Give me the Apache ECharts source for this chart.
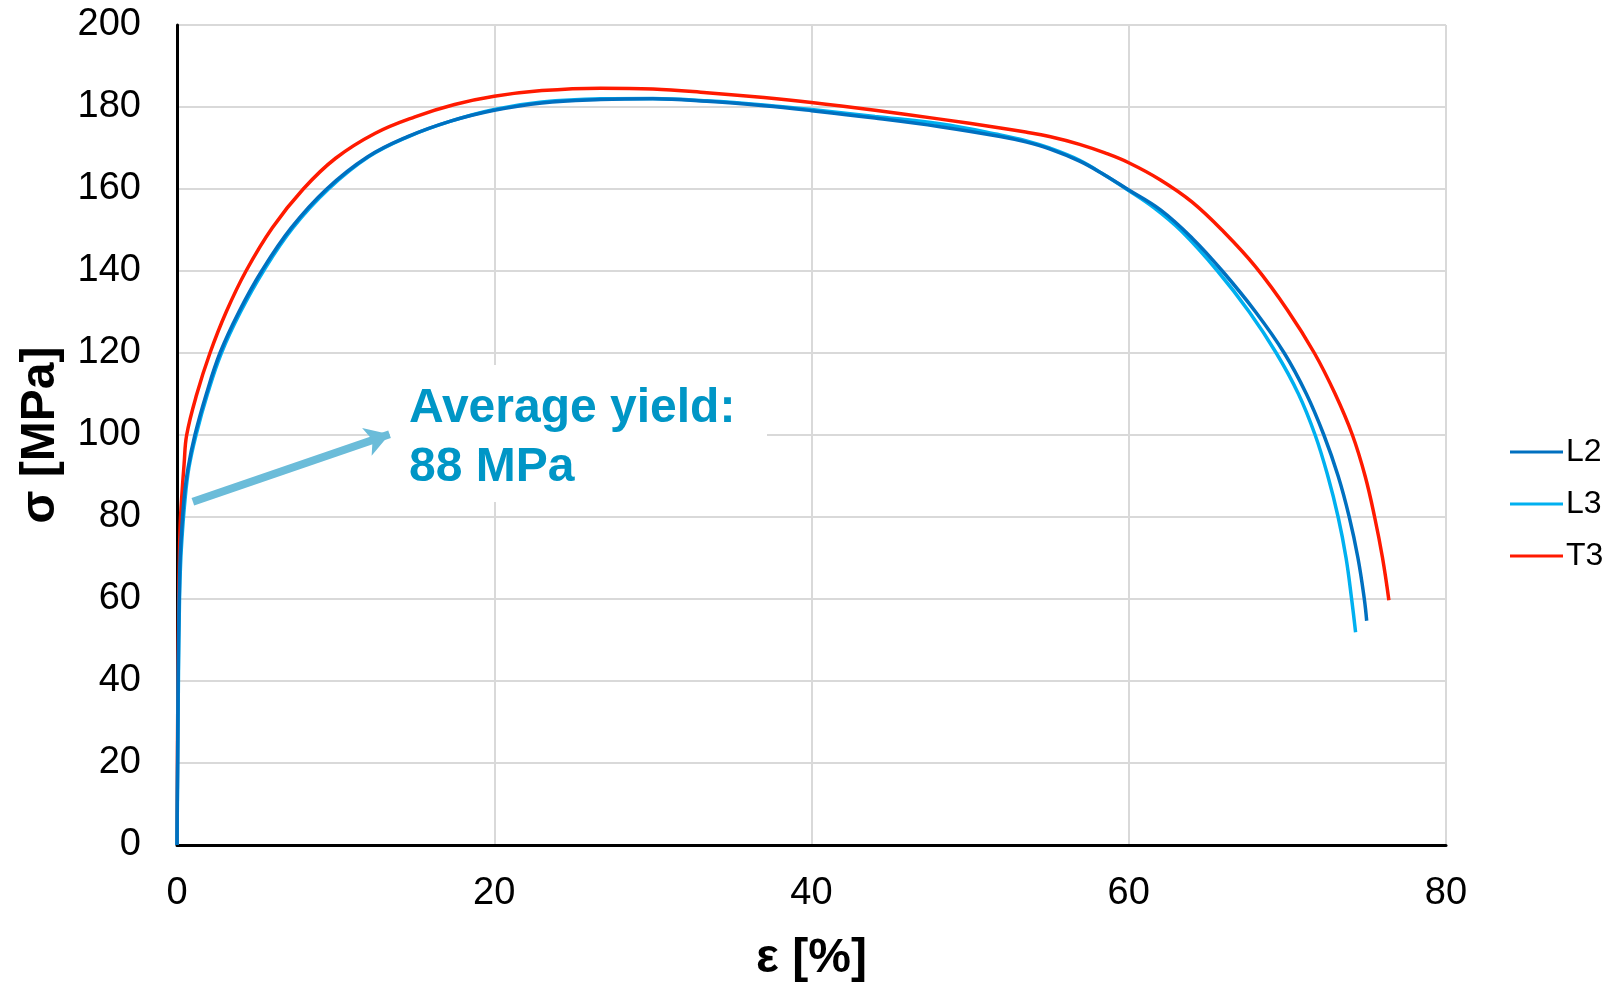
<!DOCTYPE html>
<html>
<head>
<meta charset="utf-8">
<script src="https://cdn.jsdelivr.net/npm/echarts@6/dist/echarts.min.js"></script>
<style>html,body{margin:0;padding:0;background:#fff}#c{width:1614px;height:985px}</style>
</head>
<body>
<div id="c"></div>
<script>
var seriesNames = ['L2', 'L3', 'T3'];
var L2 = [[0,0],[0.05,28],[0.1,50],[0.15,62],[0.2,70],[0.3,77],[0.46,85],[0.7,92],[1.13,100],[1.85,110],[2.71,120],[3.9,130],[5.34,140],[7.2,150.5],[9.44,160],[12,167.8],[14.5,172.7],[17.2,176.5],[20,179.2],[23,181],[26.7,181.8],[30,182],[33.4,181.4],[37,180.3],[40,179.1],[44,177.3],[48.1,175.2],[51.9,172.8],[53.5,171.5],[55,169.8],[56.9,166.8],[58.4,163.6],[59.9,160],[62,154.9],[64,148],[65.9,140],[68,130],[69.8,120],[71.2,110],[72.3,100],[73.2,90],[73.9,80],[74.45,70],[74.85,60],[75.0,54.7]];
var L3 = [[0,0],[0.05,22],[0.1,45],[0.15,58],[0.2,66],[0.3,74],[0.5,84],[0.75,92],[1.2,100],[1.92,110],[2.8,120],[4.0,130],[5.45,140],[7.3,150.5],[9.55,160],[12.1,167.9],[14.6,172.8],[17.3,176.6],[20,179.4],[23,181.2],[26.7,182],[30,182.1],[33.4,181.5],[37,180.5],[40,179.4],[44,177.7],[48.1,175.9],[51.9,173.2],[53.5,171.8],[55,170],[56.9,167],[58.4,163.6],[59.85,160],[61.6,155.4],[63.3,149.8],[65.6,140],[67.6,130],[69.3,120],[70.7,110],[71.75,100],[72.55,90],[73.2,80],[73.7,70],[74.05,60],[74.3,51.9]];
var T3 = [[0,0],[0.05,35],[0.1,58],[0.15,70],[0.2,78],[0.3,85],[0.45,93],[0.61,100],[1.25,110],[2.08,120],[3.1,130],[4.35,140],[6,150.5],[7.96,160],[10,167.5],[12.5,173.6],[15,177.6],[17.5,180.6],[20,182.6],[23,184],[26.7,184.6],[30,184.4],[33.4,183.5],[37,182.3],[40,181.1],[44,179.2],[48,177.1],[51.9,174.9],[53.5,173.9],[55,172.8],[56.9,170.9],[58.5,168.8],[60,166.4],[62,162.2],[64,156.8],[66,149.5],[68,141],[70,130.5],[71.7,120],[73,110.1],[74.1,100],[74.9,90],[75.5,80],[76,70],[76.4,59.7]];
var xTicks = [0, 20, 40, 60, 80];
var yTicks = [0, 20, 40, 60, 80, 100, 120, 140, 160, 180, 200];
var annotationLines = ['Average yield:', '88 MPa'];
var arrowFrom = [1.0, 83.7];
var arrowTo = [13.4, 100.2];

var FONT = '"Liberation Sans", Arial, sans-serif';
var colors = ['#0070c0', '#00b0f0', '#ff1a00'];
var dataList = [L2, L3, T3];

var chart = echarts.init(document.getElementById('c'), null, {renderer: 'canvas'});
var series = seriesNames.map(function (n, i) {
  return {
    name: n, type: 'line', data: dataList[i], showSymbol: false, symbol: 'none',
    smooth: 0.4,
    lineStyle: {color: colors[i], width: 3.5},
    itemStyle: {color: colors[i]},
    emphasis: {disabled: true}
  };
});
series = [series[2], series[1], series[0]];
series.push({
  type: 'line', data: [], silent: true,
  markLine: {
    silent: true, animation: false,
    symbol: ['none', 'arrow'], symbolSize: [22, 24],
    label: {show: false},
    lineStyle: {color: '#6bbcd9', width: 8, type: 'solid'},
    emphasis: {disabled: true},
    data: [[{coord: arrowFrom}, {coord: arrowTo}]]
  }
});

chart.setOption({
  animation: false,
  backgroundColor: '#fff',
  grid: {left: 177, right: 168, top: 25, bottom: 140, containLabel: false, outerBoundsMode: 'none'},
  legend: {
    data: seriesNames, orient: 'vertical', left: 1505, top: 431,
    icon: 'rect', itemWidth: 53, itemHeight: 3, itemGap: 20,
    textStyle: {fontFamily: FONT, fontSize: 32, color: '#000', padding: [0, 0, 0, -2]}
  },
  xAxis: {
    type: 'value', min: 0, max: 80, interval: 20,
    name: 'ε [%]', nameLocation: 'middle', nameGap: 90,
    nameTextStyle: {fontFamily: FONT, fontSize: 48, fontWeight: 'bold', color: '#000'},
    axisLine: {show: true, onZero: false, lineStyle: {color: '#000', width: 3}},
    axisTick: {show: false},
    axisLabel: {fontFamily: FONT, fontSize: 38, color: '#000', margin: 30,
      formatter: function (v) { return xTicks.indexOf(v) >= 0 ? String(v) : ''; }},
    splitLine: {show: true, lineStyle: {color: '#d9d9d9', width: 2}}
  },
  yAxis: {
    type: 'value', min: 0, max: 200, interval: 20,
    name: 'σ [MPa]', nameLocation: 'middle', nameGap: 112, nameRotate: 90,
    nameTextStyle: {fontFamily: FONT, fontSize: 48, fontWeight: 'bold', color: '#000'},
    axisLine: {show: true, onZero: false, lineStyle: {color: '#000', width: 3}},
    axisTick: {show: false},
    axisLabel: {fontFamily: FONT, fontSize: 38, color: '#000', margin: 36,
      formatter: function (v) { return yTicks.indexOf(v) >= 0 ? String(v) : ''; }},
    splitLine: {show: true, lineStyle: {color: '#d9d9d9', width: 2}}
  },
  graphic: [
    {type: 'rect', z: 1, silent: true, shape: {x: 390, y: 365, width: 377, height: 137}, style: {fill: '#fff'}},
    {type: 'text', z: 5, silent: true, x: 409, y: 409, style: {text: annotationLines[0], fontFamily: FONT, fontSize: 48, fontWeight: 'bold', fill: '#0096c6', verticalAlign: 'middle', align: 'left'}},
    {type: 'text', z: 5, silent: true, x: 409, y: 468, style: {text: annotationLines[1], fontFamily: FONT, fontSize: 48, fontWeight: 'bold', fill: '#0096c6', verticalAlign: 'middle', align: 'left'}}
  ],
  series: series
});
</script>
</body>
</html>
